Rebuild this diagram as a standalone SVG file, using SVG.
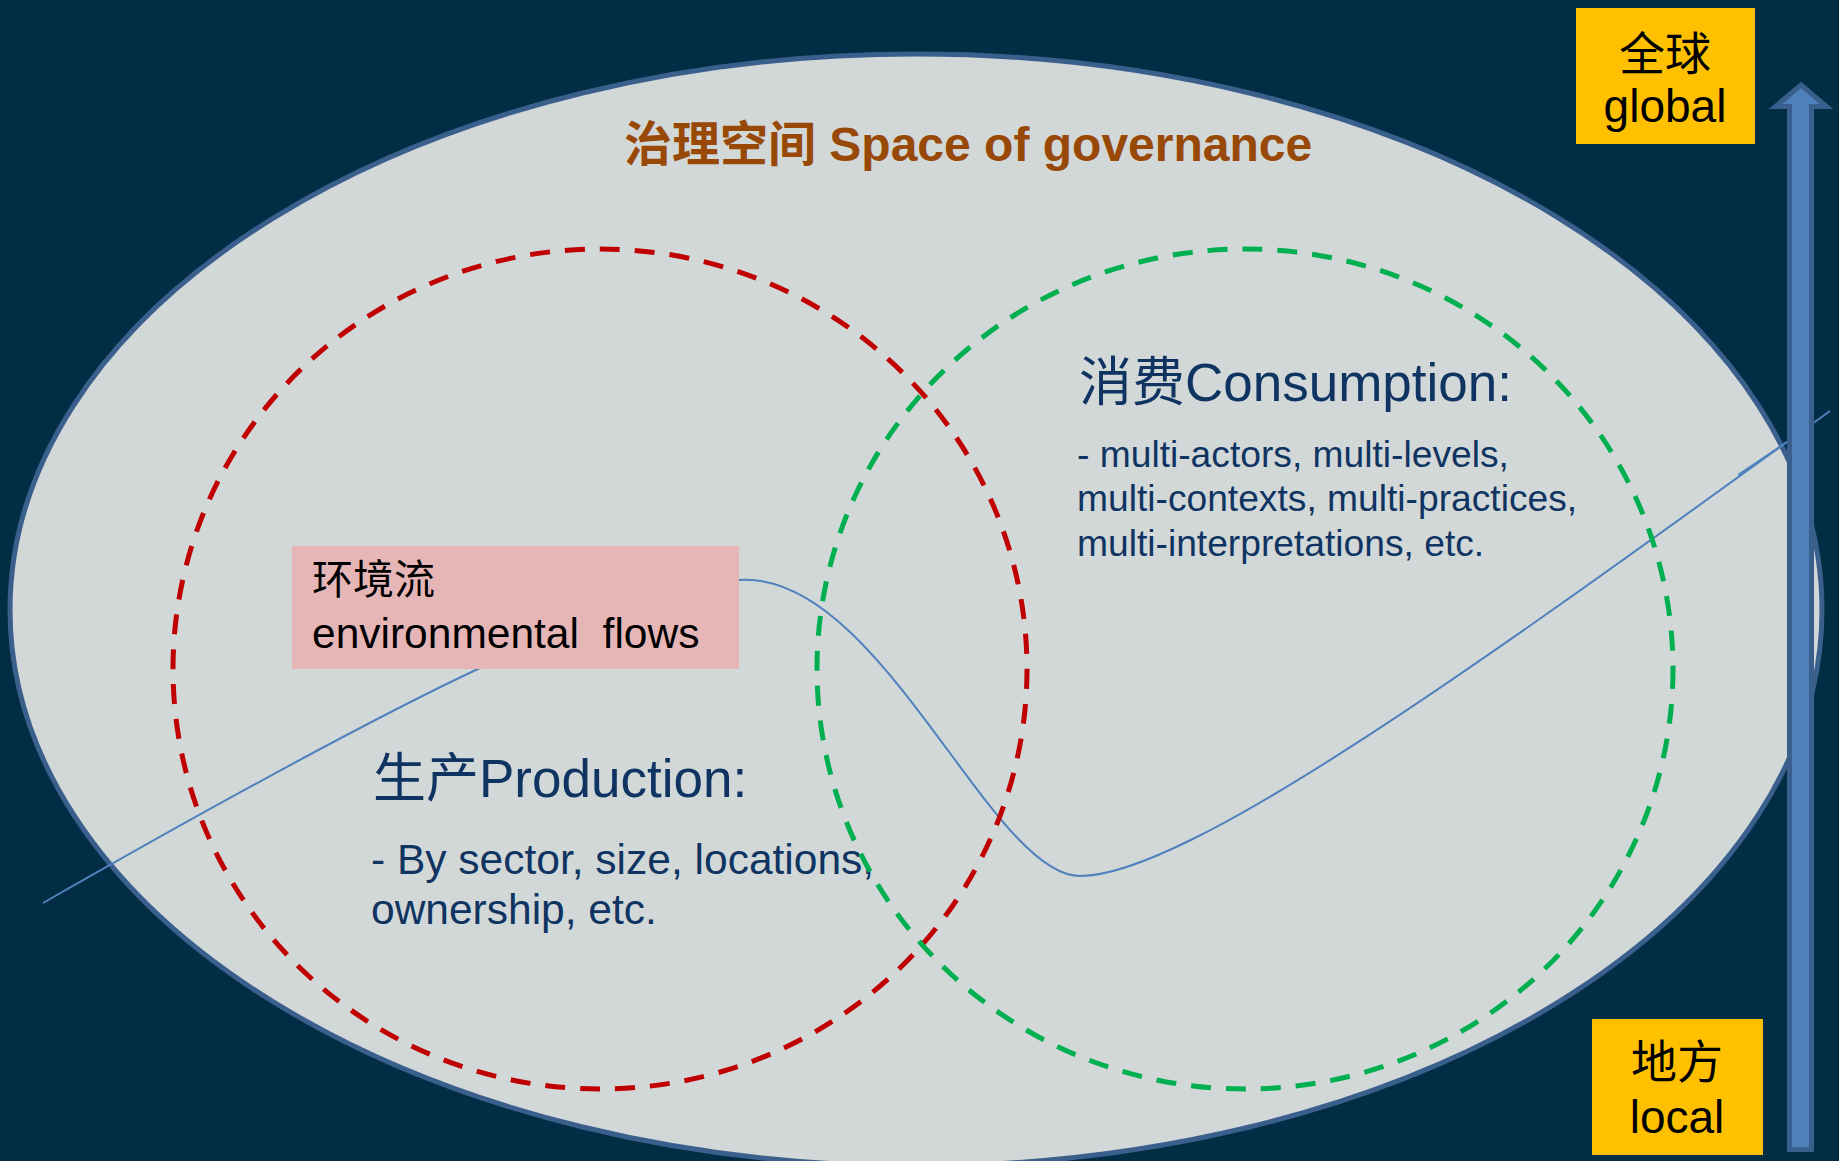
<svg xmlns="http://www.w3.org/2000/svg" width="1839" height="1161" viewBox="0 0 1839 1161">
  <style>
    .blue { fill: #0F3462; font-family: "Liberation Sans", "Noto Sans CJK SC", sans-serif; }
    .blk { fill: #000000; font-family: "Liberation Sans", "Noto Sans CJK SC", sans-serif; }
    .gold { fill: #FFC000; }
    .dash { fill: none; stroke-width: 5; stroke-dasharray: 20 15; }
    .flow { fill: none; stroke: #4F81BD; stroke-width: 2; }
  </style>
  <rect x="0" y="0" width="1839" height="1161" fill="#022D45"/>

  <g id="space">
    <ellipse cx="916" cy="610" rx="906" ry="556" fill="#D2D8D8" stroke="#3B5F8C" stroke-width="5"/>
    <text x="624" y="161" font-family="Liberation Sans, Noto Sans CJK SC, sans-serif" font-size="48" font-weight="bold" fill="#984807">治理空间 Space of governance</text>
  </g>

  <g id="connectors">
    <path class="flow" d="M43,903 Q337,735 480,668 L739,580 C880,570 990,876 1080,876 C1190,876 1500,649 1830,411"/>
    <path class="flow" d="M1738,475 L1787,442"/>
  </g>

  <g id="production">
    <ellipse class="dash" cx="600" cy="669" rx="427" ry="420" stroke="#C00000"/>
    <text class="blue" x="373" y="797" font-size="53">生产Production:</text>
    <text class="blue" x="371" y="874" font-size="42.5">- By sector, size, locations,</text>
    <text class="blue" x="371" y="924" font-size="42.5">ownership, etc.</text>
  </g>

  <g id="consumption">
    <ellipse class="dash" cx="1245" cy="669" rx="428" ry="420" stroke="#00B050"/>
    <text class="blue" x="1079" y="401" font-size="53">消费Consumption:</text>
    <text class="blue" x="1077" y="467" font-size="37.2">- multi-actors, multi-levels,</text>
    <text class="blue" x="1077" y="511" font-size="37.2">multi-contexts, multi-practices,</text>
    <text class="blue" x="1077" y="556" font-size="37.2">multi-interpretations, etc.</text>
  </g>

  <g id="flows">
    <rect x="292" y="546" width="447" height="123" fill="#E6B6B6"/>
    <text class="blk" x="312" y="594" font-size="41">环境流</text>
    <text class="blk" x="312" y="648" font-size="42.5" xml:space="preserve">environmental  flows</text>
  </g>

  <g id="scale-arrow">
    <polygon points="1801,85 1826.5,106.5 1811.5,106.5 1811.5,1149.5 1789.5,1149.5 1789.5,106.5 1775.5,106.5" fill="#4F81BD" stroke="#3B5F8C" stroke-width="5"/>
  </g>

  <g id="global">
    <rect class="gold" x="1576" y="8" width="179" height="136"/>
    <text class="blk" x="1665" y="70" font-size="46" text-anchor="middle">全球</text>
    <text class="blk" x="1665" y="122" font-size="46" text-anchor="middle">global</text>
  </g>

  <g id="local">
    <rect class="gold" x="1592" y="1019" width="171" height="136"/>
    <text class="blk" x="1677" y="1078" font-size="46" text-anchor="middle">地方</text>
    <text class="blk" x="1677" y="1133" font-size="46" text-anchor="middle">local</text>
  </g>
</svg>
